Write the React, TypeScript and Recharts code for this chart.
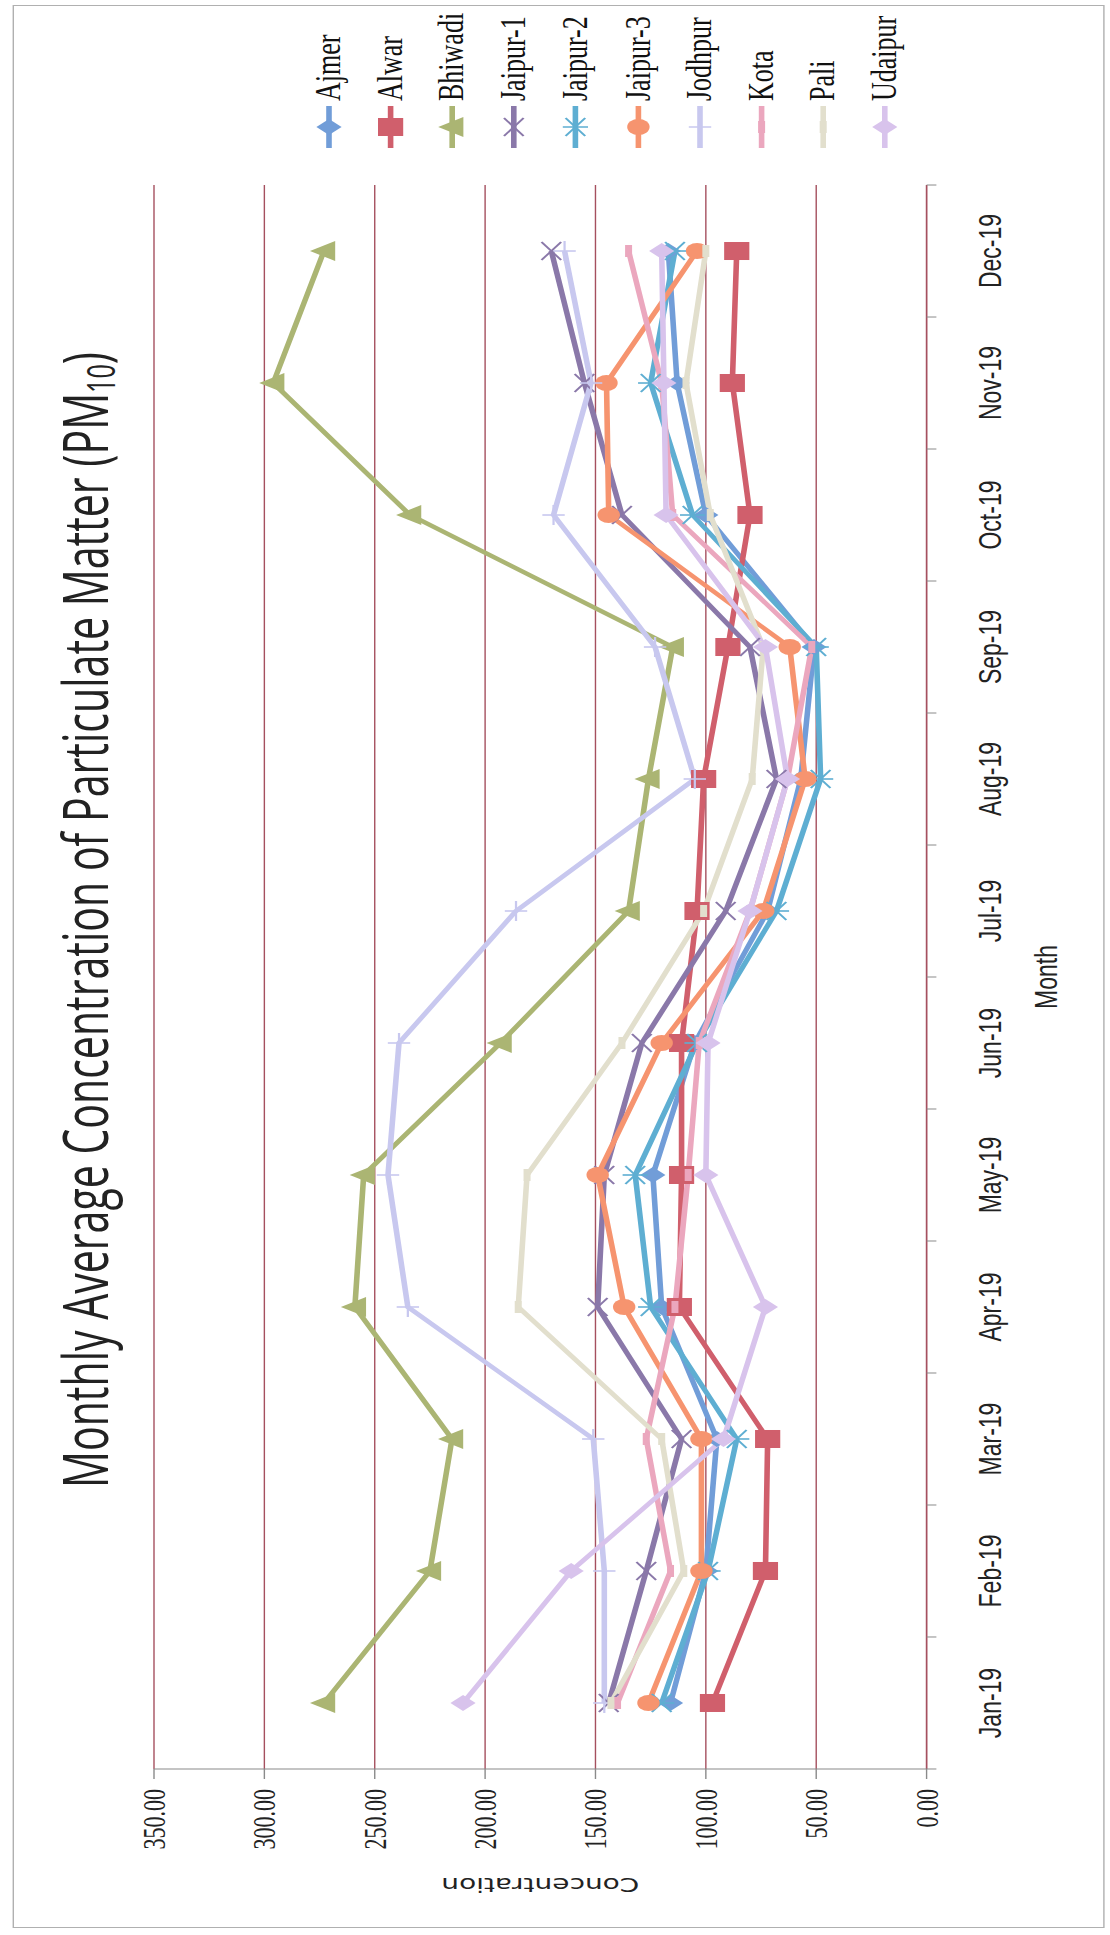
import React from 'react'
import { LineChart, Line, XAxis, YAxis, CartesianGrid, Legend } from 'recharts'

/* ─── data ─── */
const months = ['Jan-19', 'Feb-19', 'Mar-19', 'Apr-19', 'May-19', 'Jun-19', 'Jul-19', 'Aug-19', 'Sep-19', 'Oct-19', 'Nov-19', 'Dec-19']
const valueTicks = [0, 50, 100, 150, 200, 250, 300, 350]

const ajmer = [116, 100, 95, 120, 124, 105, 72, 57, 51, 100, 113, 117]
const alwar = [97, 73, 72, 112, 111, 111, 104, 101, 90, 80, 88, 86]
const bhiwadi = [273, 225, 215, 259, 255, 193, 135, 126, 115, 234, 296, 273]
const jaipur1 = [144, 127, 111, 149, 146, 129, 91, 68, 80, 138, 155, 170]
const jaipur2 = [120, 99, 86, 125, 132, 104, 68, 48, 50, 106, 125, 114]
const jaipur3 = [126, 102, 102, 137, 149, 120, 74, 55, 62, 144, 145, 104]
const jodhpur = [146, 146, 151, 235, 244, 239, 186, 105, 123, 169, 152, 164]
const kota = [140, 116, 127, 114, 108, 103, 80, 63, 52, 115, 120, 135]
const pali = [143, 110, 120, 185, 181, 138, 101, 79, 74, 98, 109, 100]
const udaipur = [210, 161, 92, 73, 100, 99, 80, 63, 73, 118, 119, 120]

type Shape = 'diamond' | 'square' | 'triangle' | 'x' | 'star' | 'circle' | 'plus' | 'dash'

const series: { name: string; values: number[]; color: string; shape: Shape }[] = [
  { name: 'Ajmer', values: ajmer, color: '#719dd8', shape: 'diamond' },
  { name: 'Alwar', values: alwar, color: '#d05f6c', shape: 'square' },
  { name: 'Bhiwadi', values: bhiwadi, color: '#abb573', shape: 'triangle' },
  { name: 'Jaipur-1', values: jaipur1, color: '#8a78a9', shape: 'x' },
  { name: 'Jaipur-2', values: jaipur2, color: '#5eaed2', shape: 'star' },
  { name: 'Jaipur-3', values: jaipur3, color: '#f6946f', shape: 'circle' },
  { name: 'Jodhpur', values: jodhpur, color: '#c8c8ef', shape: 'plus' },
  { name: 'Kota', values: kota, color: '#eba7be', shape: 'dash' },
  { name: 'Pali', values: pali, color: '#e2dfcd', shape: 'dash' },
  { name: 'Udaipur', values: udaipur, color: '#d8c3ec', shape: 'diamond' },
]

const data = months.map((month, i) => {
  const row: Record<string, string | number> = { month }
  series.forEach((s) => { row[s.name] = s.values[i] })
  return row
})

/* ─── layout (chart drawn upright, then stretched and turned) ─── */
const S = 1.4
const W = 1935
const H = 1110 / S
const PLOT_W = 1584
const HALF = PLOT_W / months.length / 2
const GRID = '#a5505f'
const AXIS = '#8a8a8a'

/* ─── markers ─── */
function Marker({ shape, cx, cy, color }: { shape: Shape; cx: number; cy: number; color: string }) {
  switch (shape) {
    case 'diamond':
      return <polygon points={`${cx},${cy - 9} ${cx + 8},${cy} ${cx},${cy + 9} ${cx - 8},${cy}`} fill={color} />
    case 'square':
      return <rect x={cx - 9} y={cy - 9} width={18} height={18} fill={color} />
    case 'triangle':
      return <polygon points={`${cx},${cy - 10} ${cx + 10},${cy + 8} ${cx - 10},${cy + 8}`} fill={color} />
    case 'circle':
      return <circle cx={cx} cy={cy} r={8} fill={color} />
    case 'x':
      return (
        <g stroke={color} strokeWidth={1.6}>
          <line x1={cx - 9} y1={cy - 7} x2={cx + 9} y2={cy + 7} />
          <line x1={cx - 9} y1={cy + 7} x2={cx + 9} y2={cy - 7} />
        </g>
      )
    case 'star':
      return (
        <g stroke={color} strokeWidth={1.6}>
          <line x1={cx - 9} y1={cy - 7} x2={cx + 9} y2={cy + 7} />
          <line x1={cx - 9} y1={cy + 7} x2={cx + 9} y2={cy - 7} />
          <line x1={cx} y1={cy - 9} x2={cx} y2={cy + 9} />
        </g>
      )
    case 'plus':
      return (
        <g stroke={color} strokeWidth={1.6}>
          <line x1={cx - 10} y1={cy} x2={cx + 10} y2={cy} />
          <line x1={cx} y1={cy - 8} x2={cx} y2={cy + 8} />
        </g>
      )
    case 'dash':
      return <rect x={cx - 6} y={cy - 2.5} width={12} height={5} fill={color} />
  }
  return null
}

function MonthTick(props: any) {
  const { x, y, payload, index } = props
  return (
    <g>
      <line x1={x - HALF} x2={x - HALF} y1={y} y2={y + 7} stroke={AXIS} />
      {index === months.length - 1 && <line x1={x + HALF} x2={x + HALF} y1={y} y2={y + 7} stroke={AXIS} />}
      <text x={x} y={y + 45} textAnchor="middle" dominantBaseline="central"
        fontFamily="Liberation Sans" fontSize={23} fill="#222">
        {payload.value}
      </text>
    </g>
  )
}

function LegendBox(props: any) {
  const items = props.payload ?? []
  return (
    <div>
      {items.map((item: any) => {
        const s = series.find((d) => d.name === item.value)!
        return (
          <div key={item.value} style={{ height: 44.1, display: 'flex', alignItems: 'center' }}>
            <svg width={46} height={30}>
              <line x1={2} x2={44} y1={15} y2={15} stroke={s.color} strokeWidth={4} />
              <Marker shape={s.shape} cx={23} cy={15} color={s.color} />
            </svg>
            <span style={{ marginLeft: 3, fontFamily: 'Liberation Serif', fontSize: 26, color: '#111', whiteSpace: 'nowrap' }}>{item.value}</span>
          </div>
        )
      })}
    </div>
  )
}

export default function App() {
  return (
    <div style={{ position: 'absolute', left: 0, top: 0, width: 1110, height: 1935, overflow: 'hidden', background: '#fff' }}>
      <div style={{
        position: 'absolute', left: 0, top: 0, width: W, height: H,
        transformOrigin: '0 0',
        transform: `translate(0px, ${W}px) rotate(-90deg) scale(1, ${S})`,
      }}>
        <div style={{ position: 'absolute', left: 7, top: 9, width: 1921, height: 778, border: '1px solid #b0b0b0' }} />
        <svg width={W} height={110} style={{ position: 'absolute', left: 0, top: 0 }}>
          <text x={447} y={77} textLength={1136} lengthAdjust="spacingAndGlyphs"
            fontFamily="Open Sans" fontSize={44} fill="#222">
            Monthly Average Concentration of Particulate Matter (PM<tspan fontSize={27} dy={5}>10</tspan><tspan dy={-5}>)</tspan>
          </text>
        </svg>
        <div style={{ position: 'absolute', left: 0, top: 0 }}>
          <LineChart width={W} height={H} data={data} margin={{ top: 110, right: 185, left: 6, bottom: 0 }}>
            <CartesianGrid vertical={false} stroke={GRID} strokeWidth={1} />
            <XAxis
              dataKey="month" interval={0} height={131}
              padding={{ left: HALF, right: HALF }}
              tickLine={false} tickSize={0} tickMargin={0}
              axisLine={{ stroke: GRID }}
              tick={<MonthTick />}
              label={{ value: 'Month', position: 'insideBottom', offset: 38, fontFamily: 'Liberation Sans', fontSize: 23, fill: '#222' }}
            />
            <YAxis
              type="number" domain={[0, 350]} ticks={valueTicks} width={160}
              tickFormatter={(v: number) => v.toFixed(2)}
              tick={{ fontFamily: 'Liberation Serif', fontSize: 22, fill: '#222' }}
              axisLine={{ stroke: AXIS }} tickLine={{ stroke: AXIS }} tickSize={10} tickMargin={10}
              label={{
                value: 'Concentration', angle: -90, position: 'insideLeft', offset: 44,
                style: { textAnchor: 'middle', fontFamily: 'DejaVu Sans', fontSize: 20, fill: '#222' },
              }}
            />
            <Legend
              layout="vertical" align="center" verticalAlign="middle"
              wrapperStyle={{ left: 1785, top: 213, width: 150 }}
              content={(p: any) => <LegendBox payload={p.payload} />}
            />
            {series.map((s) => (
              <Line
                key={s.name} type="linear" dataKey={s.name} name={s.name}
                stroke={s.color} strokeWidth={4}
                dot={(p: any) => <Marker key={`${s.name}-${p.index}`} shape={s.shape} cx={p.cx} cy={p.cy} color={s.color} />}
                activeDot={false}
                isAnimationActive={false}
              />
            ))}
          </LineChart>
        </div>
      </div>
    </div>
  )
}
